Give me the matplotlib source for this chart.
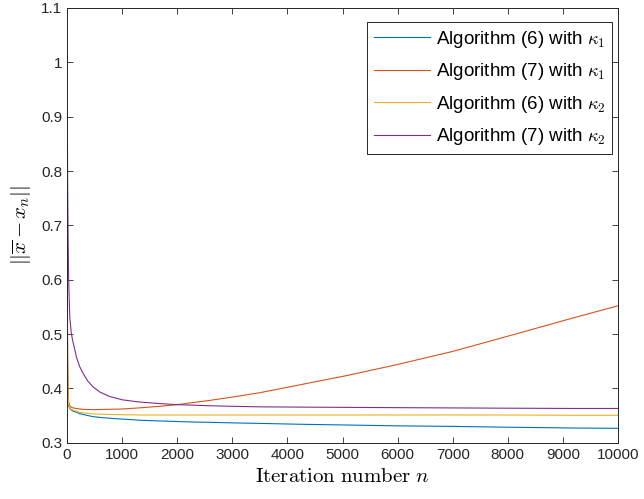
import matplotlib
matplotlib.use("Agg")
import matplotlib.pyplot as plt

plt.rcParams['font.family'] = ['Liberation Sans', 'DejaVu Sans']
plt.rcParams['mathtext.fontset'] = 'cm'

n = [0, 10, 20, 30, 50, 80, 110, 170, 230, 290, 380, 470, 600, 775, 1000, 1300,
     1680, 2000, 2300, 2600, 3000, 3500, 4200, 5100, 6000, 7000, 8000, 9200, 10000]

alg6_k1 = [0.60, 0.42, 0.378, 0.368, 0.363, 0.360, 0.358, 0.356, 0.3535, 0.352, 0.350,
           0.348, 0.3465, 0.345, 0.3435, 0.3415, 0.340, 0.339, 0.338, 0.3375, 0.3365,
           0.3355, 0.334, 0.3325, 0.331, 0.330, 0.3285, 0.327, 0.3265]
alg7_k1 = [0.74, 0.50, 0.40, 0.375, 0.368, 0.365, 0.364, 0.363, 0.362, 0.3615, 0.361,
           0.361, 0.361, 0.3615, 0.362, 0.364, 0.367, 0.370, 0.374, 0.378, 0.384,
           0.392, 0.406, 0.424, 0.444, 0.468, 0.496, 0.530, 0.552]
alg6_k2 = [0.68, 0.45, 0.385, 0.370, 0.364, 0.361, 0.360, 0.358, 0.356, 0.355, 0.354,
           0.353, 0.3525, 0.352, 0.3515, 0.351, 0.351, 0.351, 0.351, 0.351, 0.351,
           0.351, 0.351, 0.351, 0.351, 0.351, 0.351, 0.3505, 0.3505]
alg7_k2 = [1.05, 0.80, 0.68, 0.60, 0.53, 0.50, 0.485, 0.458, 0.44, 0.428, 0.413,
           0.403, 0.393, 0.385, 0.379, 0.375, 0.372, 0.370, 0.369, 0.368, 0.367,
           0.366, 0.3655, 0.365, 0.3645, 0.364, 0.3635, 0.363, 0.363]

labels = [r'Algorithm (6) with $\kappa_1$', r'Algorithm (7) with $\kappa_1$',
          r'Algorithm (6) with $\kappa_2$', r'Algorithm (7) with $\kappa_2$']
colors = ['#0072BD', '#D95319', '#EDB120', '#7E2F8E']
series = [alg6_k1, alg7_k1, alg6_k2, alg7_k2]

xticks = list(range(0, 10001, 1000))
yticks = [0.3, 0.4, 0.5, 0.6, 0.7, 0.8, 0.9, 1.0, 1.1]
yticklabels = ['0.3', '0.4', '0.5', '0.6', '0.7', '0.8', '0.9', '1', '1.1']

fig = plt.figure(figsize=(6.44, 4.99), dpi=100)
ax_l, ax_r, ax_t, ax_b = 67, 618, 8, 442.7
ax = fig.add_axes([ax_l/644, 1 - ax_b/499, (ax_r - ax_l)/644, (ax_b - ax_t)/499])

for y, c, lab in zip(series, colors, labels):
    ax.plot(n, y, color=c, lw=0.8, label=lab)

ax.set_xlim(0, 10000)
ax.set_ylim(0.3, 1.1)
ax.set_xticks(xticks)
ax.set_xticklabels([str(t) for t in xticks])
ax.set_yticks(yticks)
ax.set_yticklabels(yticklabels)
ax.tick_params(direction='in', top=True, right=True, labelsize=11, colors='#262626',
               length=4, width=0.6)
for s in ax.spines.values():
    s.set_color('#262626')
    s.set_linewidth(0.7)

ax.set_xlabel(r'$\mathrm{Iteration\ number}\ n$', fontsize=15, labelpad=4)
ax.set_ylabel(r'$||\overline{x}-x_n||$', fontsize=15, labelpad=6)

anchor = ((612 - ax_l)/(ax_r - ax_l), 1 - (22 - ax_t)/(ax_b - ax_t))
leg = ax.legend(loc='upper right', bbox_to_anchor=anchor, fontsize=13.5, frameon=True,
                fancybox=False, handlelength=3.0, handletextpad=0.3, borderaxespad=0,
                labelspacing=0.62, borderpad=0.35)
leg.get_frame().set_edgecolor('#262626')
leg.get_frame().set_linewidth(0.7)
leg.get_frame().set_alpha(1)

fig.savefig('out.png', dpi=100)
